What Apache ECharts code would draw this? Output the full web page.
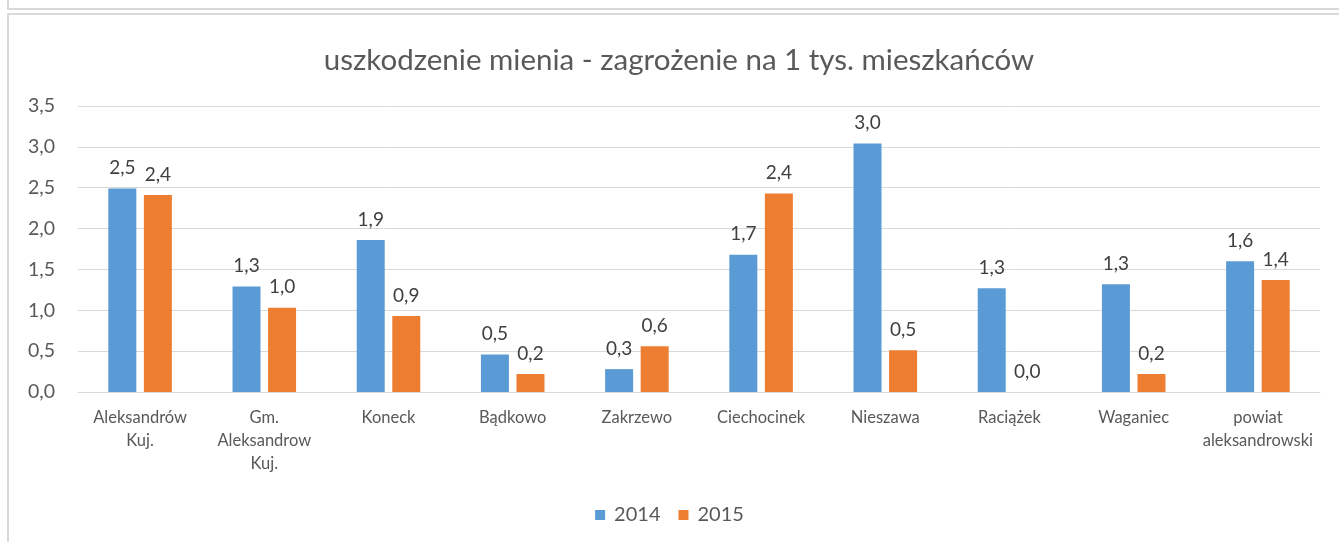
<!DOCTYPE html>
<html>
<head>
<meta charset="utf-8">
<script src="https://cdn.jsdelivr.net/npm/echarts@6/dist/echarts.min.js"></script>
<style>
  html, body { margin: 0; padding: 0; background: #fff; overflow: hidden; }
  #wrap { position: relative; width: 1339px; height: 542px; overflow: hidden; }
  #prevBox { position: absolute; left: 7px; top: -10px; width: 2000px; height: 20px; border-left: 2px solid #d9d9d9; border-bottom: 2px solid #d9d9d9; box-sizing: border-box; }
  #box { position: absolute; left: 7px; top: 13px; width: 2000px; height: 600px; border-left: 2px solid #d9d9d9; border-top: 2px solid #d9d9d9; box-sizing: border-box; }
  #chart { position: absolute; left: 0; top: 0; width: 1339px; height: 542px; }
</style>
</head>
<body>
<div id="wrap">
  <div id="prevBox"></div>
  <div id="box"></div>
  <div id="chart"></div>
</div>
<script>
const titleText = "uszkodzenie mienia - zagrożenie na 1 tys. mieszkańców";
const categories = [
  "Aleksandrów\nKuj.",
  "Gm.\nAleksandrow\nKuj.",
  "Koneck",
  "Bądkowo",
  "Zakrzewo",
  "Ciechocinek",
  "Nieszawa",
  "Raciążek",
  "Waganiec",
  "powiat\naleksandrowski"
];
const values2014 = [2.49, 1.29, 1.86, 0.46, 0.28, 1.68, 3.04, 1.27, 1.32, 1.60];
const values2015 = [2.41, 1.03, 0.93, 0.22, 0.56, 2.43, 0.51, 0, 0.22, 1.37];
const yTicks = [0, 0.5, 1, 1.5, 2, 2.5, 3, 3.5];

const fontFamily = "Lato, 'Open Sans', sans-serif";
const fmt = v => v.toFixed(1).replace(".", ",");

const chart = echarts.init(document.getElementById("chart"));

const labelStyle = {
  show: true,
  position: "top",
  distance: 11,
  fontFamily: fontFamily,
  fontSize: 19,
  color: "#404040",
  formatter: p => fmt(p.value)
};

const option = {
  animation: false,
  backgroundColor: "transparent",
  title: {
    text: titleText,
    left: 674,
    textAlign: "center",
    top: 40,
    textStyle: {
      fontFamily: fontFamily,
      fontSize: 29.5,
      fontWeight: "normal",
      color: "#595959"
    }
  },
  legend: {
    data: ["2014", "2015"],
    left: "center",
    top: 500,
    icon: "rect",
    itemWidth: 10,
    itemHeight: 10,
    itemGap: 18,
    textStyle: {
      fontFamily: fontFamily,
      fontSize: 20,
      color: "#595959",
      padding: [0, 0, 0, 4]
    }
  },
  grid: {
    left: 78,
    right: 19,
    top: 106,
    bottom: 150
  },
  xAxis: {
    type: "category",
    data: categories,
    axisLine: { lineStyle: { color: "#d9d9d9", width: 1 } },
    axisTick: { show: false },
    axisLabel: {
      interval: 0,
      margin: 14,
      fontFamily: fontFamily,
      fontSize: 16.5,
      lineHeight: 23,
      color: "#595959"
    }
  },
  yAxis: {
    type: "value",
    min: yTicks[0],
    max: yTicks[yTicks.length - 1],
    interval: 0.5,
    axisLine: { show: false },
    axisTick: { show: false },
    splitLine: { lineStyle: { color: "#d9d9d9", width: 1 } },
    axisLabel: {
      margin: 23,
      fontFamily: fontFamily,
      fontSize: 19.5,
      color: "#595959",
      formatter: v => fmt(v)
    }
  },
  series: [
    {
      name: "2014",
      type: "bar",
      data: values2014,
      barWidth: 28,
      barGap: "27%",
      itemStyle: { color: "#5b9bd5" },
      label: labelStyle
    },
    {
      name: "2015",
      type: "bar",
      data: values2015,
      barWidth: 28,
      itemStyle: { color: "#ed7d31" },
      label: labelStyle
    }
  ]
};

chart.setOption(option);
</script>
</body>
</html>
